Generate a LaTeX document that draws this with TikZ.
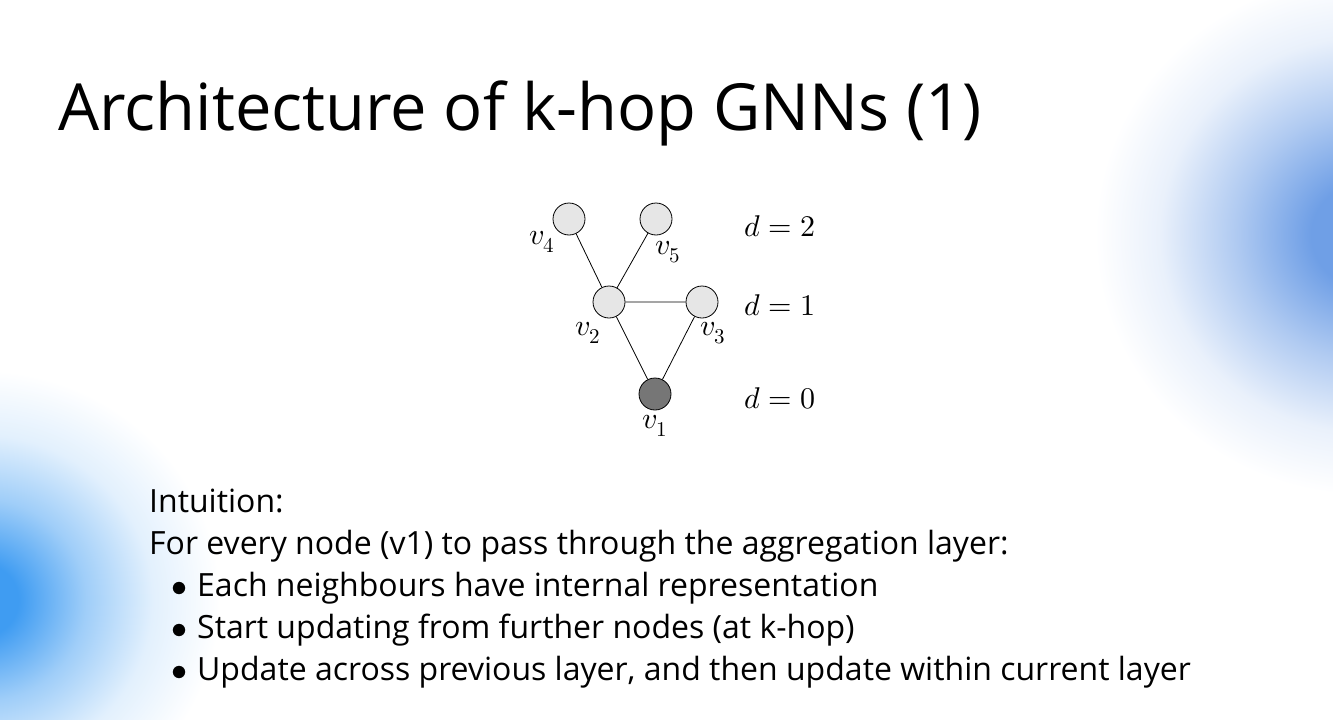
\documentclass[tikz,border=0pt]{standalone}
\usepackage{amsmath}
\usepackage{unicode-math}
\setmainfont{Open Sans}
\setmathfont{Latin Modern Math}
\usepackage{tikz}

\definecolor{glowright}{HTML}{6F9FE6}
\definecolor{glowleft}{HTML}{3F9CF2}
\definecolor{vlight}{HTML}{E6E6E6}
\definecolor{vdark}{HTML}{767676}
\pgfdeclareradialshading{glowR}{\pgfpoint{0bp}{0bp}}{color(0bp)=(glowright); color(5bp)=(glowright); color(12bp)=(glowright!55!white); color(19bp)=(glowright!15!white); color(25bp)=(white); color(50bp)=(white)}
\pgfdeclareradialshading{glowL}{\pgfpoint{0bp}{0bp}}{color(0bp)=(glowleft); color(4bp)=(glowleft); color(11bp)=(glowleft!50!white); color(18bp)=(glowleft!15!white); color(25bp)=(white); color(50bp)=(white)}

\begin{document}
\begin{tikzpicture}[
		x=1pt, y=-1pt,
		vertex/.style={draw, circle, fill=vlight, minimum size=32pt, inner sep=0pt, line width=0.8pt},
		root/.style={vertex, fill=vdark},
		vlabel/.style={font=\fontsize{30}{34}\selectfont},
		every node/.style={text=black}
		]
		% background and glows
		\useasboundingbox (0,0) rectangle (1333,720);
		\fill[white] (0,0) rectangle (1333,720);
		\begin{scope}
			\clip (0,0) rectangle (1333,720);
			\shade[shading=glowR] (1365,235) ellipse [x radius=270, y radius=260];
			\shade[shading=glowL] (-20,600) ellipse [x radius=240, y radius=230];
		\end{scope}

		\node[anchor=base west, font=\fontsize{65}{70}\selectfont] (title) at (55,130) {Architecture of k-hop GNNs (1)};

		% graph
		\node[vertex] (v4) at (569,219) {};
		\node[vertex] (v5) at (656,219) {};
		\node[vertex] (v2) at (609,302) {};
		\node[vertex] (v3) at (702,302) {};
		\node[root] (v1) at (655,394) {};
		\draw[line width=0.8pt] (v4) -- (v2) (v5) -- (v2) (v2) -- (v3) (v2) -- (v1) (v3) -- (v1);

		\node[vlabel] at (542,242) {$v_4$};
		\node[vlabel] at (668,252) {$v_5$};
		\node[vlabel] at (588,333) {$v_2$};
		\node[vlabel] at (713,333) {$v_3$};
		\node[vlabel] at (655,426) {$v_1$};

		\node[vlabel] (d2) at (780,226) {$d=2$};
		\node[vlabel] (d1) at (780,305) {$d=1$};
		\node[vlabel] (d0) at (780,398) {$d=0$};

		% text
		\node[anchor=base west, align=left, inner sep=0pt, font=\fontsize{32}{42}\selectfont] (intuition) at (149,680) {%
			Intuition:\\
			For every node (v1) to pass through the aggregation layer:\\
			\hspace*{22pt}$\bullet$\hspace{10pt}Each neighbours have internal representation\\
			\hspace*{22pt}$\bullet$\hspace{10pt}Start updating from further nodes (at k-hop)\\
			\hspace*{22pt}$\bullet$\hspace{10pt}Update across previous layer, and then update within current layer};
	\end{tikzpicture}
\end{document}
